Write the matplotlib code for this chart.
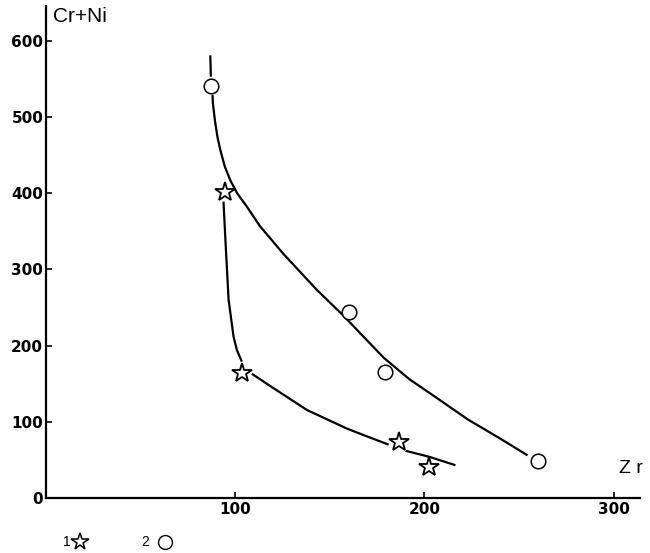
import matplotlib
matplotlib.use("Agg")
import matplotlib.pyplot as plt
from matplotlib.lines import Line2D

# measured points (Zr, Cr+Ni)
star_zr = [94.7, 103.7, 186.8, 202.6]
star_crni = [401, 164, 73, 41]
circle_zr = [87.3, 160.3, 179.4, 259.8]
circle_crni = [541, 244, 165, 49]

# hand drawn curves, in pieces (gaps at markers)
upper_top_zr = [86.8, 87.0, 87.1]
upper_top_crni = [581, 566, 553]
upper_zr = [88.0, 88.2, 89.3, 90.6, 92.1, 94.5, 97.4, 101.0, 106.0, 113.0, 125.6,
            143.2, 157.3, 178.5, 192.0, 206.7, 223.0, 240.0, 254.5]
upper_crni = [529, 518, 495, 474, 457, 435, 417, 400, 383, 357, 320,
              273, 239, 184, 156, 131, 103, 78, 56]

lower1_zr = [93.8, 95.1, 96.5, 99.1, 100.9, 103.5]
lower1_crni = [389, 325, 260, 212, 194, 179]
lower2_zr = [108.8, 120.3, 137.9, 159.1, 170.0, 181.1]
lower2_crni = [163, 144, 115.5, 91, 80.5, 70]
lower3_zr = [190.0, 202.6, 216.4]
lower3_crni = [62, 54, 43]

x_ticks = [100, 200, 300]
y_ticks = [0, 100, 200, 300, 400, 500, 600]

fig = plt.figure(figsize=(6.5, 5.53), dpi=100)
ax = fig.add_axes([0.0708, 0.0995, 0.914, 0.89])

lw = 1.6
for xs, ys in [(upper_top_zr, upper_top_crni), (upper_zr, upper_crni),
               (lower1_zr, lower1_crni), (lower2_zr, lower2_crni), (lower3_zr, lower3_crni)]:
    ax.plot(xs, ys, color='black', lw=lw, solid_capstyle='butt', solid_joinstyle='round')

ax.plot(star_zr, star_crni, ls='none', marker='*', markersize=15,
        markerfacecolor='white', markeredgecolor='black', markeredgewidth=1.3)
ax.plot(circle_zr, circle_crni, ls='none', marker='o', markersize=10.5,
        markerfacecolor='white', markeredgecolor='black', markeredgewidth=1.1)

ax.set_xlim(0, 314)
ax.set_ylim(0, 646)
ax.spines['top'].set_visible(False)
ax.spines['right'].set_visible(False)
ax.spines['left'].set_linewidth(1.6)
ax.spines['bottom'].set_linewidth(1.6)

ax.set_xticks(x_ticks)
ax.set_yticks(y_ticks)
ax.set_xticklabels([str(v) for v in x_ticks])
ax.set_yticklabels([str(v) for v in y_ticks])
ax.tick_params(direction='in', length=4, width=1.2, pad=2)
ax.tick_params(axis='x', pad=3)
for lab in ax.get_xticklabels() + ax.get_yticklabels():
    lab.set_fontfamily('DejaVu Sans')
    lab.set_fontweight('bold')
    lab.set_fontsize(11)

fig.text(0.081, 0.97, 'Cr+Ni', fontsize=15, family='Liberation Sans', va='center', ha='left')
fig.text(0.953, 0.152, 'Z r', fontsize=14, family='Liberation Sans', va='center', ha='left')

# legend under the chart
fig.text(0.103, 0.02, '1', fontsize=10, family='Liberation Sans', va='center', ha='center')
fig.add_artist(Line2D([0.123], [0.02], marker='*', markersize=13, markerfacecolor='white',
                      markeredgecolor='black', markeredgewidth=1.1, ls='none',
                      transform=fig.transFigure))
fig.text(0.223, 0.02, '2', fontsize=10, family='Liberation Sans', va='center', ha='center')
fig.add_artist(Line2D([0.254], [0.02], marker='o', markersize=10, markerfacecolor='white',
                      markeredgecolor='black', markeredgewidth=1.0, ls='none',
                      transform=fig.transFigure))

fig.savefig('out.png', dpi=100)
